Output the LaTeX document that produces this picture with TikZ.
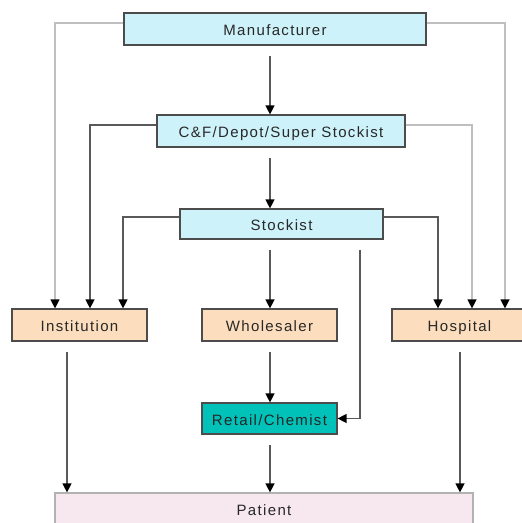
\documentclass[tikz,border=0pt]{standalone}
\usepackage{fontspec}
\setmainfont{Liberation Sans}[LetterSpace=9]
\usetikzlibrary{arrows.meta,positioning}
\definecolor{skyfill}{RGB}{206,242,250}
\definecolor{peachfill}{RGB}{252,222,190}
\definecolor{tealfill}{RGB}{0,194,184}
\definecolor{pinkfill}{RGB}{247,231,239}
\definecolor{inkgray}{RGB}{40,40,40}
\tikzset{
  box/.style={draw=gray!60!black, line width=1.2pt, minimum height=32pt, inner sep=0pt,
    text height=13pt, text depth=0pt, text=inkgray, font=\fontsize{15}{17}\selectfont},
  feed/.style={draw=gray!70!black, line width=1.3pt, -{Triangle[width=9pt,length=9pt,color=black]}},
  faint/.style={feed, draw=gray!50},
  gap/.style={shorten <=10pt}
}
\begin{document}
\begin{tikzpicture}[x=1pt,y=-1pt]
\useasboundingbox (0,0) rectangle (522,523);
\node[box,fill=skyfill,minimum width=302pt] (mfr) at (275,29) {Manufacturer};
\node[box,fill=skyfill,minimum width=248pt] (cf) at (281,131) {C\&F/Depot/Super Stockist};
\node[box,fill=skyfill,minimum width=203pt,minimum height=30pt] (stk) at (281.5,224) {Stockist};
\node[box,fill=peachfill,minimum width=135pt] (inst) at (79.5,325) {Institution};
\node[box,fill=peachfill,minimum width=135pt] (whole) at (269.5,325) {Wholesaler};
\node[box,fill=peachfill,minimum width=135pt] (hosp) at (459.5,325) {Hospital};
\node[box,fill=tealfill,minimum width=135pt,minimum height=31pt,text=black!85] (retail) at (269.5,418.5) {Retail/Chemist};
\node[box,fill=pinkfill,draw=gray!60,minimum width=418pt] (patient) at (264,509) {Patient};
\coordinate (spine) at (270,0);
\coordinate (drop) at (360,0);
\draw[feed,gap] (mfr.south -| spine) -- (cf.north -| spine);
\draw[feed,gap] (cf.south -| spine) -- (stk.north -| spine);
\draw[feed,gap] (stk.south -| spine) -- (whole.north -| spine);
\draw[feed,gap] (whole.south -| spine) -- (retail.north -| spine);
\draw[feed,gap] (retail.south -| spine) -- (patient.north -| spine);
\draw[feed,gap] (stk.south -| drop) |- (retail.east);
\draw[faint] ([yshift=6pt]mfr.west) -| ([xshift=-24.5pt]inst.north);
\draw[faint] ([yshift=6pt]mfr.east) -| ([xshift=45.5pt]hosp.north);
\draw[feed] ([yshift=6pt]cf.west) -| ([xshift=10.5pt]inst.north);
\draw[faint] ([yshift=6pt]cf.east) -| ([xshift=12.5pt]hosp.north);
\draw[feed] ([yshift=7pt]stk.west) -| ([xshift=43.5pt]inst.north);
\draw[feed] ([yshift=7pt]stk.east) -| ([xshift=-21.5pt]hosp.north);
\draw[feed,gap] ([xshift=-12.5pt]inst.south) -- ([xshift=-12.5pt]inst.south |- patient.north);
\draw[feed,gap] ([xshift=0.5pt]hosp.south) -- ([xshift=0.5pt]hosp.south |- patient.north);
\end{tikzpicture}
\end{document}
